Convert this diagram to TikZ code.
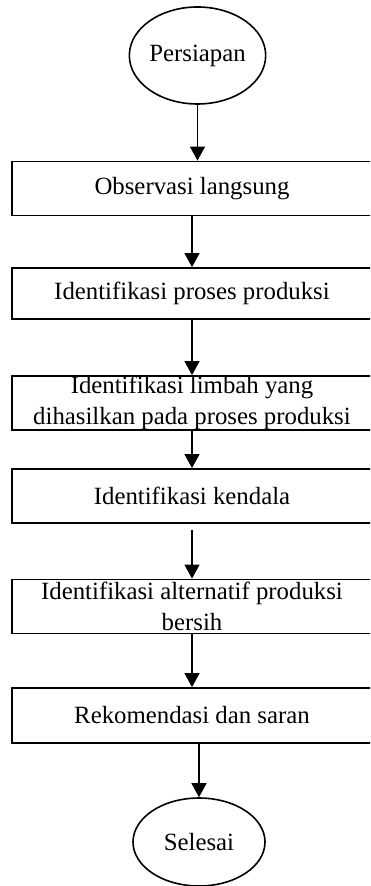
\documentclass[tikz,border=0pt]{standalone}
\usepackage{fontspec}
\setmainfont{Liberation Serif}
\usetikzlibrary{arrows.meta,shapes.geometric}
\newcommand{\flowfont}{\fontsize{12.4}{15.5}\selectfont}
\tikzset{
  stepbox/.style={draw,line width=0.9pt,minimum width=180pt,minimum height=27pt,inner xsep=2pt,inner ysep=0pt,align=center,font=\flowfont},
  terminal/.style={draw,ellipse,line width=0.8pt,inner sep=0pt,font=\flowfont},
  flowarrow/.style={line width=0.7pt,-{Triangle[length=7pt,width=7.5pt]}}
}

\begin{document}
\begin{tikzpicture}[x=0.5pt,y=-0.5pt]
  \path[use as bounding box,clip] (0,0) rectangle (370,886);

  \node[terminal,minimum width=64.5pt,minimum height=48.5pt] (start) at (197.5,55.5) {Persiapan};
  \node[stepbox] (obs) at (192,188.5) {Observasi langsung};
  \node[stepbox,minimum height=25.5pt] (proses) at (192,293.5) {Identifikasi proses produksi};
  \node[stepbox] (limbah) at (192,403) {Identifikasi limbah yang\\dihasilkan pada proses produksi};
  \node[stepbox] (kendala) at (192,496) {Identifikasi kendala};
  \node[stepbox] (alternatif) at (192,606.5) {Identifikasi alternatif produksi\\bersih};
  \node[stepbox,minimum height=27.5pt] (rekomendasi) at (192,715.5) {Rekomendasi dan saran};
  \node[terminal,minimum width=66pt,minimum height=44pt] (selesai) at (199,842) {Selesai};

  \draw[flowarrow] (start.south) -- (start.south |- obs.north);
  \draw[flowarrow] (obs.south) -- (proses.north);
  \draw[flowarrow] (proses.south) -- (limbah.north);
  \draw[flowarrow] (limbah.south) -- (kendala.north);
  \draw[flowarrow,shorten <=3pt] (kendala.south) -- (alternatif.north);
  \draw[flowarrow] (alternatif.south) -- (rekomendasi.north);
  \draw[flowarrow] (selesai.north |- rekomendasi.south) -- (selesai.north);
\end{tikzpicture}
\end{document}
